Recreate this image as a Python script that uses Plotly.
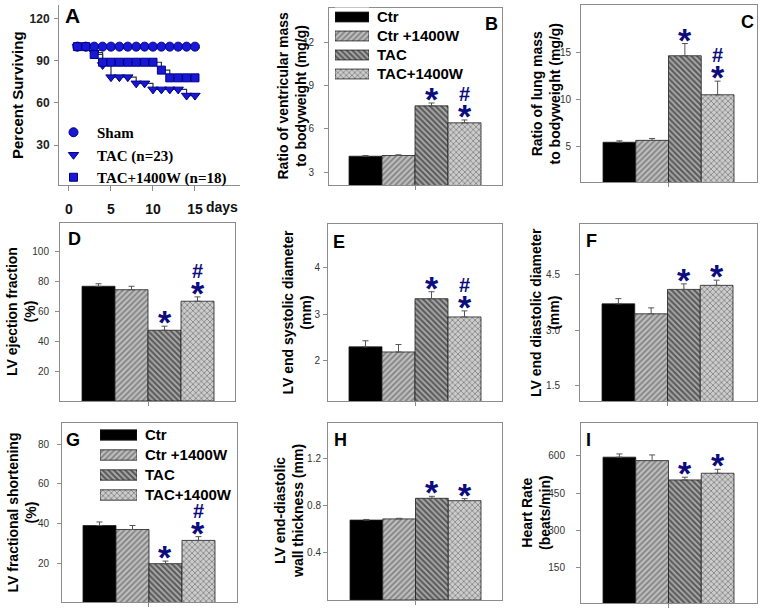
import plotly.graph_objects as go

W, H = 760, 613

# ---------------- data ----------------
# Panel A: Kaplan-Meier survival
days = [1, 2, 3, 4, 5, 6, 7, 8, 9, 10, 11, 12, 13, 14, 15]
sham_surv = [100, 100, 100, 100, 100, 100, 100, 100, 100, 100, 100, 100, 100, 100, 100]
tac_surv = [100, 100, 95.7, 87.0, 78.3, 78.3, 78.3, 73.9, 73.9, 69.6, 69.6, 69.6, 69.6, 65.2, 65.2]
tac1400w_surv = [100, 100, 94.4, 88.9, 88.9, 88.9, 88.9, 88.9, 88.9, 88.9, 83.3, 77.8, 77.8, 77.8, 77.8]
surv_names = ["Sham", "TAC (n=23)", "TAC+1400W (n=18)"]
a_xticks = [0, 5, 10, 15]
a_yticks = [30, 60, 90, 120]

# Bar panels B-I
groups = ["Ctr", "Ctr +1400W", "TAC", "TAC+1400W"]

vent_mass = [4.10, 4.15, 7.60, 6.42]
vent_mass_err = [0.05, 0.05, 0.20, 0.20]
vent_mass_sig = ["", "", "*", "#*"]

lung_mass = [5.4, 5.6, 14.6, 10.45]
lung_mass_err = [0.15, 0.2, 1.3, 1.45]
lung_mass_sig = ["", "", "*", "#*"]

ejection = [76.7, 74.4, 47.3, 66.7]
ejection_err = [1.7, 2.3, 2.7, 2.9]
ejection_sig = ["", "", "*", "#*"]

systolic = [2.30, 2.19, 3.33, 2.94]
systolic_err = [0.13, 0.16, 0.15, 0.13]
systolic_sig = ["", "", "*", "#*"]

diastolic = [3.72, 3.45, 4.11, 4.22]
diastolic_err = [0.14, 0.16, 0.15, 0.14]
diastolic_sig = ["", "", "*", "*"]

shortening = [39.0, 37.0, 19.8, 31.5]
shortening_err = [1.8, 2.0, 1.3, 1.9]
shortening_sig = ["", "", "*", "#*"]

wall = [0.676, 0.686, 0.860, 0.840]
wall_err = [0.005, 0.005, 0.017, 0.017]
wall_sig = ["", "", "*", "*"]

heart_rate = [595, 581, 503, 530]
heart_rate_err = [13, 23, 11, 16]
heart_rate_sig = ["", "", "*", "*"]

# ---------------- styles ----------------
SANS = "Liberation Sans, Arial, sans-serif"
SERIF = "Liberation Serif, Times New Roman, serif"
MARK = "#0c0c7c"
AXCOL = "#8c8c8c"
TICKCOL = "#333333"
fills = ["#000000", "#bdbdbd", "#5c5c5c", "#cccccc"]
pat_shapes = ["", "/", "\\", "x"]
pat_fg = ["#000000", "#585858", "#1e1e1e", "#646464"]
pat_sol = [0.3, 0.42, 0.45, 0.4]


def dom_x(a, b):
    return [a / W, b / W]


def dom_y(top, bottom):
    return [1 - bottom / H, 1 - top / H]


def ax(i):
    return ("x" if i == 1 else f"x{i}"), ("y" if i == 1 else f"y{i}")


def lkey(i):
    return ("xaxis" if i == 1 else f"xaxis{i}"), ("yaxis" if i == 1 else f"yaxis{i}")


def bar_marker():
    return dict(color=fills, line=dict(color="#1e1e1e", width=0.8),
                pattern=dict(shape=pat_shapes, fgcolor=pat_fg, size=4, solidity=pat_sol, fillmode="overlay"))


fig = go.Figure()
lay = {}
ann = []

# ---------------- Panel A ----------------
xa, ya = ax(1)
marker_syms = ["circle", "triangle-down", "square"]
marker_sizes = [9, 9, 8]
series = [sham_surv, tac_surv, tac1400w_surv]
for vals in series:
    fig.add_trace(go.Scatter(x=days, y=vals, mode="lines", line=dict(color="#2d3340", width=1.2, shape="hv"),
                             xaxis=xa, yaxis=ya, showlegend=False, hoverinfo="skip"))
for name, vals, sym, sz in zip(surv_names, series, marker_syms, marker_sizes):
    fig.add_trace(go.Scatter(x=days, y=vals, mode="markers", name=name,
                             marker=dict(symbol=sym, size=sz, color="#1818d4", line=dict(color="#00008a", width=1)),
                             xaxis=xa, yaxis=ya, showlegend=True, hoverinfo="skip"))
kx, ky = lkey(1)
lay[kx] = dict(domain=dom_x(59, 240), range=[-1.19, 20.36], tickvals=a_xticks, ticks="outside", ticklen=5,
               tickcolor=AXCOL, showline=True, linecolor=AXCOL, linewidth=1, mirror=False, showgrid=False,
               zeroline=False, tickfont=dict(family=SANS, size=14, color="#111", weight="bold"),
               ticklabelstandoff=6, anchor=ya)
lay[ky] = dict(domain=dom_y(5, 185), range=[1.6, 129.6], tickvals=a_yticks, ticks="outside", ticklen=4,
               tickcolor=AXCOL, showline=True, linecolor=AXCOL, linewidth=1, mirror=False, showgrid=False,
               zeroline=False, tickfont=dict(family=SANS, size=12, color="#222", weight="bold"),
               ticklabelstandoff=2, anchor=xa)
ann.append(dict(text="days", xref="paper", yref="paper", x=204 / W, y=1 - 207 / H, xanchor="left",
                yanchor="middle", showarrow=False, font=dict(family=SANS, size=14, color="#111", weight="bold")))
ann.append(dict(text="Percent Surviving", xref="paper", yref="paper", x=18 / W, y=1 - 95 / H,
                textangle=-90, xanchor="center", yanchor="middle", showarrow=False,
                font=dict(family=SANS, size=15, color="black", weight="bold")))
ann.append(dict(text="A", xref="paper", yref="paper", x=63 / W, y=1 - 2 / H, xanchor="left", yanchor="top",
                showarrow=False, font=dict(family=SANS, size=21, color="black", weight="bold")))

# ---------------- Bar panels ----------------
panels = [
    dict(idx=2, vals=vent_mass, err=vent_mass_err, sig=vent_mass_sig, box=(329, 502, 8, 185), yr=[2.1, 14.4],
         ticks=[3, 6, 9, 12], fmt="", title="Ratio of ventricular mass<br>to bodyweight (mg/g)", tcx=292,
         label="B", lx=483, ly=12, xr=[-1.106, 4.136], tso=8),
    dict(idx=3, vals=lung_mass, err=lung_mass_err, sig=lung_mass_sig, box=(581, 757, 5, 182), yr=[1.17, 20.0],
         ticks=[5, 10, 15], fmt="", title="Ratio of lung mass<br>to bodyweight (mg/g)", tcx=545,
         label="C", lx=739, ly=10, xr=[-1.172, 4.202], tso=3),
    dict(idx=4, vals=ejection, err=ejection_err, sig=ejection_sig, box=(60, 235, 223, 401), yr=[0, 119],
         ticks=[20, 40, 60, 80, 100], fmt="", title="LV ejection fraction<br>(%)", tcx=21,
         label="D", lx=66, ly=227, xr=[-1.167, 4.136], tso=4),
    dict(idx=5, vals=systolic, err=systolic_err, sig=systolic_sig, box=(328, 502, 224, 401), yr=[1.14, 4.93],
         ticks=[2, 3, 4], fmt="", title="LV end systolic diameter<br>(mm)", tcx=296,
         label="E", lx=331, ly=230, xr=[-1.136, 4.136], tso=1),
    dict(idx=6, vals=diastolic, err=diastolic_err, sig=diastolic_sig, box=(580, 757, 224, 401), yr=[1.09, 5.88],
         ticks=[1.5, 3.0, 4.5], fmt=".1f", title="LV end diastolic diameter<br>(mm)", tcx=544.5,
         label="F", lx=584, ly=229, xr=[-1.172, 4.233], tso=13),
    dict(idx=7, vals=shortening, err=shortening_err, sig=shortening_sig, box=(62, 237, 423, 602), yr=[0.5, 90.6],
         ticks=[20, 40, 60, 80], fmt="", title="LV fractional shortening<br>(%)", tcx=21,
         label="G", lx=64, ly=428, xr=[-1.136, 4.167], tso=6),
    dict(idx=8, vals=wall, err=wall_err, sig=wall_sig, box=(328, 502, 423, 600), yr=[0, 1.497],
         ticks=[0.4, 0.8, 1.2], fmt=".1f", title="LV end-diastolic<br>wall thickness (mm)", tcx=288.5,
         label="H", lx=332, ly=428, xr=[-1.172, 4.141], tso=0),
    dict(idx=9, vals=heart_rate, err=heart_rate_err, sig=heart_rate_sig, box=(581, 757, 423, 603), yr=[5.7, 733],
         ticks=[150, 300, 450, 600], fmt="", title="Heart Rate<br>(beats/min)", tcx=536,
         label="I", lx=584, ly=428, xr=[-1.172, 4.202], tso=9),
]

pos = list(range(len(groups)))
for p in panels:
    xa, ya = ax(p["idx"])
    kx, ky = lkey(p["idx"])
    fig.add_trace(go.Bar(
        x=pos, y=p["vals"], width=1, xaxis=xa, yaxis=ya, showlegend=False, hoverinfo="skip",
        marker=bar_marker(),
        error_y=dict(type="data", symmetric=False, array=p["err"], arrayminus=[0] * len(groups),
                     color="#555555", thickness=1, width=3),
    ))
    x0, x1, t, b = p["box"]
    lay[kx] = dict(domain=dom_x(x0, x1), range=p["xr"], tickvals=[1.5], ticktext=[""], ticks="outside",
                   ticklen=4, tickcolor=AXCOL, showline=True, mirror=True, linecolor=AXCOL, linewidth=1,
                   showgrid=False, zeroline=False, anchor=ya)
    lay[ky] = dict(domain=dom_y(t, b), range=p["yr"], tickvals=p["ticks"], tickformat=p["fmt"],
                   ticks="outside", ticklen=4, tickcolor=AXCOL, showline=True, mirror=True,
                   linecolor=AXCOL, linewidth=1, showgrid=False, zeroline=False, anchor=xa,
                   tickfont=dict(family=SANS, size=10, color=TICKCOL), ticklabelstandoff=p["tso"])
    for i, s in enumerate(p["sig"]):
        top = p["vals"][i] + p["err"][i]
        if "*" in s:
            ann.append(dict(text="*", xref=xa, yref=ya, x=pos[i], y=top, xanchor="center", yanchor="bottom",
                            yshift=-17, showarrow=False,
                            font=dict(family=SANS, size=34, color=MARK, weight="bold")))
        if "#" in s:
            ann.append(dict(text="#", xref=xa, yref=ya, x=pos[i], y=top, xanchor="center", yanchor="bottom",
                            yshift=13, showarrow=False,
                            font=dict(family=SANS, size=20, color=MARK, weight="bold")))
    ann.append(dict(text=p["title"], xref="paper", yref="paper", x=p["tcx"] / W, y=1 - (t + b) / 2 / H,
                    textangle=-90, xanchor="center", yanchor="middle", showarrow=False,
                    font=dict(family=SANS, size=14, color="black", weight="bold")))
    ann.append(dict(text=p["label"], xref="paper", yref="paper", x=p["lx"] / W, y=1 - p["ly"] / H,
                    xanchor="left", yanchor="top", showarrow=False,
                    font=dict(family=SANS, size=18, color="black", weight="bold")))

# ---------------- bar legends (B and G) ----------------
legend_boxes = [(10, (335, 369, 7.5, 83.5)), (11, (100, 137, 425, 505))]
for idx, (x0, x1, t, b) in legend_boxes:
    xa, ya = ax(idx)
    kx, ky = lkey(idx)
    fig.add_trace(go.Bar(
        y=groups, x=[1] * len(groups), orientation="h", width=0.52, xaxis=xa, yaxis=ya,
        showlegend=False, hoverinfo="skip", marker=bar_marker(),
    ))
    lay[kx] = dict(domain=dom_x(x0, x1), range=[0, 1], visible=False, anchor=ya)
    lay[ky] = dict(domain=dom_y(t, b), autorange="reversed", side="right", anchor=xa, showline=False,
                   showgrid=False, zeroline=False, ticks="", ticklabelstandoff=7,
                   tickfont=dict(family=SANS, size=15, color="black", weight="bold"))

fig.update_layout(
    width=W, height=H, margin=dict(l=0, r=0, t=0, b=0),
    paper_bgcolor="white", plot_bgcolor="white",
    annotations=ann,
    legend=dict(x=50 / W, y=1 - 116 / H, xanchor="left", yanchor="top", bgcolor="rgba(0,0,0,0)",
                font=dict(family=SERIF, size=15, color="black", weight="bold"), tracegroupgap=0,
                itemwidth=37),
    **lay,
)

fig.write_html("out.html", config={"displayModeBar": False, "staticPlot": True},
               post_script="document.body.style.margin='0';document.body.style.overflow='hidden';")
